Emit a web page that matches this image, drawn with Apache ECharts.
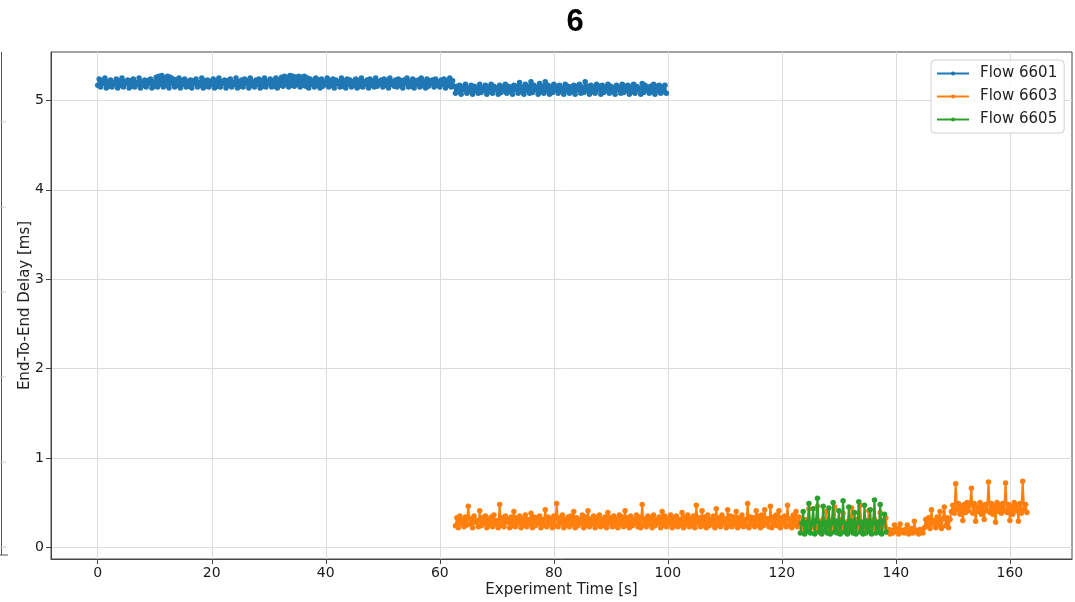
<!DOCTYPE html>
<html>
<head>
<meta charset="utf-8">
<script src="https://cdn.jsdelivr.net/npm/echarts@6/dist/echarts.min.js"></script>
<style>html,body{margin:0;padding:0;background:#fff;}#chart{width:1075px;height:602px;}</style>
</head>
<body>
<div id="chart"></div>
<script>
// ---- data ----
const chartTitle = '6';
const seriesNames = ['Flow 6601', 'Flow 6603', 'Flow 6605'];
const seriesColors = ['#1f77b4', '#ff7f0e', '#2ca02c'];
const xTicks = [0, 20, 40, 60, 80, 100, 120, 140, 160];
const yTicks = [0, 1, 2, 3, 4, 5];
const sampleStep = 0.25; // s between samples
const blueStart = 0;
const orangeStart = 62.75;
const greenStart = 123.25;

// Flow 6601 delay [ms]
const blueDelay = [
5.17,5.24,5.15,5.22,5.19,5.25,5.14,5.21,5.16,5.23,5.15,5.20,5.18,5.24,5.14,5.22,5.17,5.25,5.15,5.21,
5.19,5.23,5.14,5.22,5.16,5.24,5.15,5.20,5.18,5.25,5.14,5.21,5.17,5.23,5.15,5.22,5.19,5.24,5.14,5.21,
5.16,5.26,5.15,5.27,5.18,5.28,5.15,5.25,5.17,5.27,5.14,5.26,5.19,5.24,5.15,5.23,5.17,5.25,5.14,5.22,
5.18,5.24,5.15,5.21,5.16,5.23,5.14,5.22,5.19,5.24,5.15,5.20,5.17,5.25,5.14,5.22,5.16,5.23,5.15,5.21,
5.18,5.24,5.14,5.22,5.16,5.25,5.15,5.21,5.19,5.23,5.14,5.22,5.17,5.24,5.15,5.20,5.18,5.25,5.14,5.21,
5.16,5.23,5.15,5.24,5.19,5.22,5.14,5.25,5.17,5.21,5.15,5.23,5.18,5.24,5.14,5.22,5.16,5.25,5.15,5.21,
5.19,5.24,5.15,5.22,5.16,5.25,5.14,5.23,5.17,5.26,5.16,5.27,5.18,5.26,5.15,5.28,5.17,5.27,5.16,5.26,
5.18,5.27,5.15,5.26,5.17,5.27,5.16,5.25,5.14,5.24,5.18,5.22,5.15,5.25,5.17,5.23,5.14,5.24,5.16,5.21,
5.18,5.25,5.15,5.22,5.17,5.24,5.14,5.23,5.19,5.21,5.15,5.25,5.16,5.22,5.14,5.24,5.18,5.23,5.15,5.21,
5.17,5.24,5.14,5.22,5.16,5.25,5.15,5.21,5.18,5.23,5.14,5.24,5.17,5.22,5.15,5.25,5.16,5.21,5.19,5.23,
5.15,5.24,5.17,5.22,5.14,5.25,5.18,5.21,5.16,5.23,5.15,5.24,5.17,5.22,5.14,5.23,5.19,5.25,5.15,5.21,
5.16,5.24,5.14,5.22,5.18,5.23,5.15,5.25,5.17,5.21,5.14,5.24,5.16,5.22,5.19,5.23,5.15,5.24,5.17,5.21,
5.15,5.23,5.18,5.24,5.14,5.22,5.17,5.25,5.15,5.22,5.16,
5.08,5.16,5.10,5.17,5.07,5.15,5.12,5.18,5.08,5.14,5.10,5.17,5.07,5.16,5.11,5.15,5.08,5.18,5.09,5.14,
5.11,5.17,5.07,5.15,5.10,5.18,5.08,5.16,5.12,5.14,5.07,5.17,5.09,5.15,5.11,5.18,5.08,5.16,5.10,5.15,
5.07,5.17,5.12,5.16,5.08,5.20,5.10,5.15,5.07,5.18,5.11,5.16,5.08,5.21,5.09,5.17,5.12,5.15,5.07,5.19,
5.10,5.16,5.08,5.21,5.11,5.17,5.07,5.15,5.09,5.18,5.12,5.16,5.08,5.17,5.10,5.14,5.07,5.18,5.11,5.16,
5.08,5.15,5.10,5.17,5.07,5.16,5.12,5.18,5.08,5.15,5.09,5.21,5.11,5.16,5.07,5.17,5.10,5.15,5.08,5.18,
5.12,5.16,5.07,5.17,5.09,5.15,5.11,5.18,5.08,5.16,5.10,5.14,5.07,5.17,5.12,5.15,5.08,5.18,5.09,5.16,
5.11,5.17,5.07,5.15,5.10,5.18,5.08,5.16,5.12,5.14,5.07,5.19,5.09,5.17,5.11,5.15,5.08,5.16,5.10,5.18,
5.07,5.16,5.11,5.17,5.08,5.15,5.10,5.17,5.08
];

// Flow 6603 delay [ms]
const orangeDelay = [
0.24,0.33,0.22,0.35,0.27,0.31,0.23,0.34,0.25,0.46,0.26,0.32,0.22,0.35,0.28,0.30,0.23,0.41,0.24,0.33,
0.27,0.35,0.22,0.31,0.25,0.34,0.23,0.36,0.26,0.30,0.22,0.48,0.25,0.33,0.23,0.35,0.28,0.31,0.22,0.34,
0.24,0.40,0.23,0.33,0.27,0.35,0.22,0.32,0.25,0.36,0.23,0.31,0.26,0.38,0.22,0.34,0.24,0.33,0.27,0.35,
0.22,0.31,0.25,0.42,0.23,0.34,0.26,0.32,0.22,0.35,0.24,0.49,0.23,0.33,0.27,0.36,0.22,0.31,0.25,0.34,
0.23,0.35,0.26,0.40,0.22,0.33,0.24,0.31,0.27,0.36,0.22,0.34,0.25,0.41,0.23,0.32,0.26,0.35,0.22,0.33,
0.24,0.36,0.23,0.31,0.25,0.34,0.22,0.39,0.27,0.33,0.23,0.35,0.24,0.32,0.22,0.36,0.26,0.34,0.23,0.41,
0.25,0.33,0.22,0.35,0.24,0.31,0.27,0.36,0.23,0.34,0.22,0.48,0.25,0.32,0.23,0.35,0.26,0.33,0.22,0.36,
0.24,0.31,0.27,0.34,0.22,0.40,0.25,0.35,0.23,0.32,0.26,0.36,0.22,0.33,0.24,0.35,0.23,0.31,0.25,0.39,
0.22,0.34,0.26,0.36,0.23,0.32,0.24,0.35,0.22,0.47,0.27,0.33,0.23,0.41,0.25,0.34,0.22,0.36,0.24,0.31,
0.26,0.35,0.22,0.43,0.25,0.33,0.23,0.36,0.27,0.32,0.22,0.42,0.24,0.35,0.23,0.34,0.26,0.40,0.22,0.33,
0.25,0.36,0.23,0.31,0.24,0.49,0.22,0.34,0.26,0.33,0.23,0.41,0.25,0.35,0.22,0.36,0.24,0.42,0.27,0.32,
0.23,0.46,0.22,0.34,0.25,0.36,0.24,0.41,0.22,0.33,0.26,0.35,0.23,0.47,0.24,0.32,0.22,0.36,0.25,0.40,
0.23,0.34,0.26,
0.22,0.29,0.20,0.31,0.24,0.43,0.21,0.28,0.23,0.30,0.20,0.46,0.22,0.29,0.25,0.31,0.21,0.40,0.23,0.28,
0.20,0.30,0.24,0.45,0.21,0.29,0.22,0.31,0.20,0.38,0.23,0.28,0.21,0.30,0.24,0.44,0.20,0.29,0.22,0.31,
0.21,0.47,0.23,0.28,0.20,0.30,0.22,0.41,0.24,0.29,0.21,0.31,0.20,0.28,0.23,0.39,0.22,0.30,0.24,
0.33,0.17,0.20,0.15,0.19,0.16,0.25,0.18,0.21,0.15,0.26,0.17,0.19,0.16,0.20,0.25,0.15,0.18,0.21,0.16,
0.29,0.17,0.19,0.15,0.20,0.18,0.16,
0.22,0.31,0.24,0.33,0.21,0.42,0.26,0.30,0.22,0.34,0.25,0.40,0.21,0.32,0.45,0.24,0.33,0.22,0.31,
0.40,0.47,0.38,0.71,0.42,0.49,0.37,0.46,0.30,0.48,0.39,0.50,0.41,0.47,0.66,0.38,0.49,0.29,0.45,0.40,
0.50,0.37,0.47,0.31,0.48,0.41,0.73,0.39,0.49,0.37,0.46,0.28,0.50,0.40,0.47,0.38,0.49,0.41,0.72,0.39,
0.48,0.30,0.46,0.37,0.50,0.41,0.47,0.29,0.49,0.38,0.74,0.42,0.48,0.39
];

// Flow 6605 delay [ms]
const greenDelay = [
0.16,0.27,0.40,0.15,0.28,0.18,0.49,0.16,0.26,0.43,0.15,0.29,0.55,0.17,0.27,0.15,0.46,0.18,0.28,0.16,
0.44,0.15,0.27,0.50,0.17,0.29,0.16,0.41,0.15,0.28,0.52,0.17,0.26,0.15,0.45,0.18,0.29,0.16,0.39,0.15,
0.27,0.51,0.17,0.28,0.15,0.47,0.16,0.29,0.18,0.42,0.15,0.27,0.53,0.16,0.28,0.17,0.48,0.15,0.29,0.37,
0.17
];

// ---- chart ----
function toPoints(start, values) {
  return values.map((v, i) => [start + i * sampleStep, v]);
}
const seriesData = [
  toPoints(blueStart, blueDelay),
  toPoints(orangeStart, orangeDelay),
  toPoints(greenStart, greenDelay)
];

const FONT = 'DejaVu Sans';
const chart = echarts.init(document.getElementById('chart'), null, {renderer: 'canvas'});
chart.setOption({
  animation: false,
  backgroundColor: '#ffffff',
  title: {
    text: chartTitle,
    left: 570,
    top: 2,
    textAlign: 'center',
    textStyle: {fontFamily: 'Liberation Sans', fontWeight: 'bold', fontSize: 31, color: '#000'}
  },
  grid: {
    left: 51, right: 3, top: 52, bottom: 43,
    outerBoundsMode: 'none',
    containLabel: false,
    show: true, borderColor: '#444', borderWidth: 1, backgroundColor: 'transparent'
  },
  legend: {
    orient: 'vertical',
    left: 931, top: 60,
    padding: [6, 7, 6, 5],
    itemWidth: 32, itemHeight: 5, itemGap: 8,
    borderColor: '#d0d0d0', borderWidth: 1, borderRadius: 4,
    backgroundColor: 'rgba(255,255,255,0.85)',
    textStyle: {fontFamily: FONT, fontSize: 15, color: '#222', lineHeight: 15, padding: [0, 0, 0, 6]},
    data: seriesNames
  },
  xAxis: {
    type: 'value', min: -8.2, max: 170.9,
    name: 'Experiment Time [s]', nameLocation: 'middle', nameGap: 24, nameMoveOverlap: false,
    nameTextStyle: {fontFamily: FONT, fontSize: 15, color: '#222'},
    axisLine: {onZero: false, lineStyle: {color: '#444', width: 1}},
    axisTick: {customValues: xTicks, length: 5, lineStyle: {color: '#444'}},
    axisLabel: {customValues: xTicks, fontFamily: FONT, fontSize: 14, color: '#1a1a1a', margin: 7},
    splitLine: {show: true, lineStyle: {color: '#dcdcdc', width: 1}}
  },
  yAxis: {
    type: 'value', min: -0.131, max: 5.542,
    name: 'End-To-End Delay [ms]', nameLocation: 'middle', nameGap: 18, nameMoveOverlap: false,
    nameTextStyle: {fontFamily: FONT, fontSize: 15, color: '#222'},
    axisLine: {show: true, onZero: false, lineStyle: {color: '#444', width: 1}},
    axisTick: {show: true, customValues: yTicks, length: 5, lineStyle: {color: '#444'}},
    axisLabel: {customValues: yTicks, fontFamily: FONT, fontSize: 14, color: '#1a1a1a', margin: 7},
    splitLine: {show: true, lineStyle: {color: '#dcdcdc', width: 1}}
  },
  graphic: [
    {type: 'line', shape: {x1: 1.5, y1: 52, x2: 1.5, y2: 555}, style: {stroke: '#555', lineWidth: 1}},
    {type: 'line', shape: {x1: 0, y1: 555, x2: 8, y2: 555}, style: {stroke: '#555', lineWidth: 1}},
    {type: 'line', shape: {x1: 0, y1: 122, x2: 6, y2: 122}, style: {stroke: '#ccc', lineWidth: 1}},
    {type: 'line', shape: {x1: 0, y1: 207, x2: 6, y2: 207}, style: {stroke: '#ccc', lineWidth: 1}},
    {type: 'line', shape: {x1: 0, y1: 292, x2: 6, y2: 292}, style: {stroke: '#ccc', lineWidth: 1}},
    {type: 'line', shape: {x1: 0, y1: 377, x2: 6, y2: 377}, style: {stroke: '#ccc', lineWidth: 1}},
    {type: 'line', shape: {x1: 0, y1: 462, x2: 6, y2: 462}, style: {stroke: '#ccc', lineWidth: 1}},
    {type: 'line', shape: {x1: 0, y1: 547, x2: 6, y2: 547}, style: {stroke: '#ccc', lineWidth: 1}}
  ],
  series: seriesNames.map((name, k) => ({
    name: name,
    type: 'line',
    data: seriesData[k],
    color: seriesColors[k],
    symbol: 'circle',
    symbolSize: 5.5,
    showAllSymbol: true,
    sampling: null,
    lineStyle: {width: 2, color: seriesColors[k]},
    itemStyle: {color: seriesColors[k]},
    emphasis: {disabled: true},
    z: 2 + k
  }))
});
</script>
</body>
</html>
